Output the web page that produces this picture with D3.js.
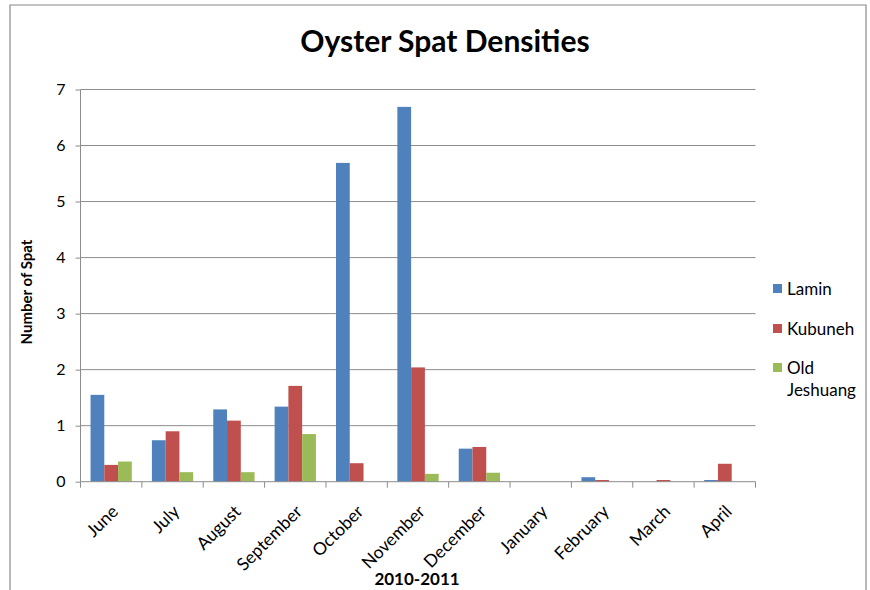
<!DOCTYPE html>
<html><head><meta charset="utf-8">
<script src="https://cdn.jsdelivr.net/npm/d3@7"></script>
<style>body{margin:0;background:#fff}svg{display:block}text{font-family:Lato,"Open Sans",sans-serif}</style>
</head><body><svg id="c" width="870" height="590"></svg>
<script>
const months = ["June","July","August","September","October","November","December","January","February","March","April"];
const lamin = [1.55,0.74,1.29,1.34,5.69,6.69,0.59,0,0.08,0,0.03];
const kubuneh = [0.30,0.90,1.09,1.71,0.33,2.04,0.62,0,0.03,0.03,0.32];
const oldJeshuang = [0.36,0.17,0.17,0.85,0,0.14,0.16,0,0,0,0];
const seriesNames = ["Lamin","Kubuneh","Old Jeshuang"];
const colors = ["#4F81BD","#C0504D","#9BBB59"];
const yTicks = [0,1,2,3,4,5,6,7];

const svg = d3.select("#c");
svg.append("path").attr("d","M10,590 V5 H866 V590").attr("fill","none").attr("stroke","#888").attr("stroke-width",1.2);

const L=80.5, R=755.5, T=89.5, B=481.7;
const x0 = d3.scaleBand().domain(months).range([L,R]).padding(0);
const x1 = d3.scaleBand().domain(seriesNames).range([0,x0.bandwidth()]).paddingOuter(0.73).paddingInner(0);
const y = d3.scaleLinear().domain([0,7]).range([B,T]);

svg.append("g").selectAll("line").data(yTicks.slice(1)).join("line")
  .attr("x1",L).attr("x2",R).attr("y1",d=>y(d)).attr("y2",d=>y(d))
  .attr("stroke","#8c8c8c").attr("stroke-width",1);

const data = months.map((m,i)=>({m, v:[lamin[i],kubuneh[i],oldJeshuang[i]]}));
svg.append("g").selectAll("g").data(data).join("g")
  .attr("transform",d=>`translate(${x0(d.m)},0)`)
  .selectAll("rect").data(d=>d.v.map((v,k)=>({v,k}))).join("rect")
  .attr("x",d=>x1(seriesNames[d.k])).attr("width",x1.bandwidth())
  .attr("y",d=>y(d.v)).attr("height",d=>B-y(d.v))
  .attr("fill",d=>colors[d.k]);

const ya = svg.append("g").attr("transform",`translate(${L},0)`)
  .call(d3.axisLeft(y).tickValues(yTicks).tickSize(5).tickPadding(10).tickFormat(d3.format("d")));
ya.select(".domain").attr("stroke","#8c8c8c").attr("d",`M0,${B}V${T}`);
ya.selectAll(".tick line").attr("stroke","#8c8c8c");
ya.selectAll("text").attr("font-size",16).attr("fill","#000").attr("font-family","Lato,sans-serif");

const xa = svg.append("g").attr("transform",`translate(0,${B})`);
xa.append("line").attr("x1",L).attr("x2",R).attr("stroke","#8c8c8c");
xa.selectAll("line.t").data(d3.range(months.length+1)).join("line").attr("class","t")
  .attr("x1",i=>L+i*x0.step()).attr("x2",i=>L+i*x0.step()).attr("y1",0).attr("y2",6).attr("stroke","#8c8c8c");
xa.selectAll("text").data(months).join("text")
  .attr("text-anchor","end").attr("font-size",17.5).attr("fill","#000")
  .attr("transform",d=>`translate(${x0(d)+x0.bandwidth()/2+8},${31}) rotate(-45)`)
  .text(d=>d);

svg.append("text").attr("x",445).attr("y",52).attr("text-anchor","middle").attr("font-size",30).attr("font-weight","bold").text("Oyster Spat Densities");
svg.append("text").attr("transform","translate(32,292) rotate(-90)").attr("text-anchor","middle").attr("font-size",15).attr("font-weight","bold").text("Number of Spat");
svg.append("text").attr("x",417).attr("y",585).attr("text-anchor","middle").attr("font-size",17).attr("font-weight","bold").text("2010-2011");

const leg = [{n:"Lamin",lines:["Lamin"],y:289},{n:"Kubuneh",lines:["Kubuneh"],y:329},{n:"Old Jeshuang",lines:["Old","Jeshuang"],y:368}];
const lg = svg.append("g");
leg.forEach((d,i)=>{
  lg.append("rect").attr("x",773).attr("y",d.y-5).attr("width",9).attr("height",9).attr("fill",colors[i]);
  const t = lg.append("text").attr("x",787).attr("y",d.y+6).attr("font-size",17).attr("fill","#000");
  d.lines.forEach((s,j)=>t.append("tspan").attr("x",787).attr("dy",j?22:0).text(s));
});
</script></body></html>
